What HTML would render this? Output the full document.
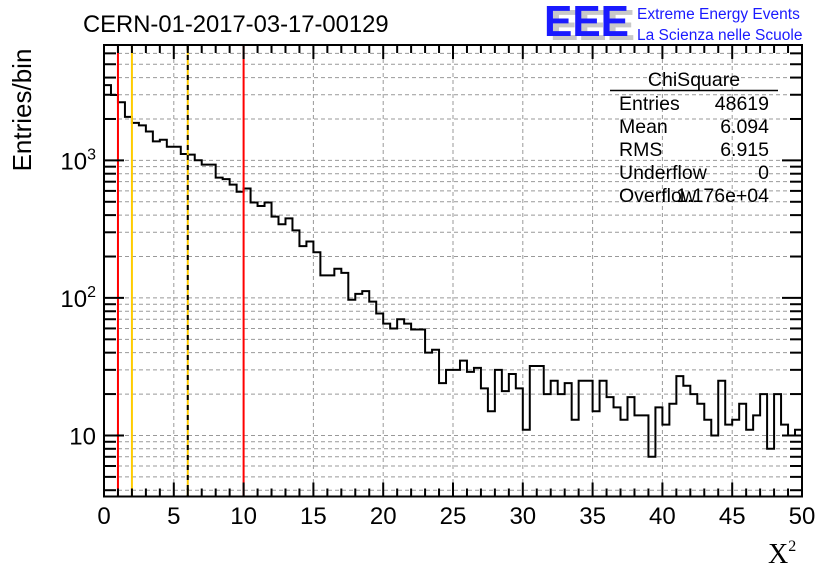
<!DOCTYPE html>
<html><head><meta charset="utf-8"><style>
body{margin:0;background:#fff;width:836px;height:572px;overflow:hidden}
svg{display:block;font-family:"Liberation Sans",sans-serif}
</style></head><body>
<svg id="chart" width="836" height="572">
<text x="83" y="32" font-size="23.8">CERN-01-2017-03-17-00129</text>
<g>
<text x="550" y="40" font-size="44" font-weight="bold" fill="#c8c8c8" textLength="85" lengthAdjust="spacingAndGlyphs">EEE</text>
<text x="544" y="36" font-size="44" font-weight="bold" fill="#1a1aff" textLength="85" lengthAdjust="spacingAndGlyphs">EEE</text>
<text x="637" y="19" font-size="15.5" fill="#1a1aff">Extreme Energy Events</text>
<text x="637" y="40" font-size="15.5" fill="#1a1aff">La Scienza nelle Scuole</text>
</g>
<g id="grid"></g>
<g id="hist"></g>
<g id="marks"></g>
<g id="axes"></g>
<g font-size="19.5">
<text x="694" y="86" text-anchor="middle">ChiSquare</text>
<line x1="610" y1="90.5" x2="778" y2="90.5" stroke="#000" stroke-width="1.5"/>
<text x="619" y="110">Entries</text><text x="769" y="110" text-anchor="end">48619</text>
<text x="619" y="133">Mean</text><text x="769" y="133" text-anchor="end">6.094</text>
<text x="619" y="156">RMS</text><text x="769" y="156" text-anchor="end">6.915</text>
<text x="619" y="179">Underflow</text><text x="769" y="179" text-anchor="end">0</text>
<text x="619" y="202">Overflow</text><text x="769" y="202" text-anchor="end">1.176e+04</text>
</g>
<text x="0" y="0" font-size="26" transform="translate(31 110) rotate(-90)" text-anchor="middle">Entries/bin</text>
<text x="768" y="563" font-size="28" font-family="Liberation Serif,serif">X<tspan font-size="16" dy="-12">2</tspan></text>
</svg>
<script>
const binValues=[3525,2985,2645,2070,1875,1795,1623,1374,1412,1256,1256,1112,1100,1002,931,931,750,730,667,591,624,494,466,494,390,343,379,310,238,257,215,146,146,163,152,97,107,112,94,77,65,60,70,65,59,59,40,42,24,30,30,35,29,31,22,15,30,21,28,22,11,32,32,20,25,20,24,13,25,25,15,25,19,16,13,19,14,14,7,16,12,17,27,23,20,17,13,10,25,12,13,17,11,14,20,8,20,12,10,11];
const xTicks=[0,5,10,15,20,25,30,35,40,45,50];
const yTickLabels=[10,100,1000];
const cutLines=[1,2,6,10];
const NS="http://www.w3.org/2000/svg";
const L=104,R=802,T=45,B=496.5,xmin=0,xmax=50,ymin=3.6,ymax=6900;
function X(v){return L+(v-xmin)/(xmax-xmin)*(R-L);}
function Y(v){return B-(Math.log10(v)-Math.log10(ymin))/(Math.log10(ymax)-Math.log10(ymin))*(B-T);}
function mk(p,t,a){const e=document.createElementNS(NS,t);for(const k in a)e.setAttribute(k,a[k]);p.appendChild(e);return e;}
const grid=document.getElementById('grid'),axes=document.getElementById('axes'),hist=document.getElementById('hist'),marks=document.getElementById('marks');

for(const t of xTicks){if(t>xmin&&t<xmax){const g=mk(grid,'line',{x1:X(t),x2:X(t),y1:T,y2:B,stroke:'#999','stroke-dasharray':'4,3'});

}}
for(let d=1;d<=1000;d*=10){for(let m=1;m<10;m++){const v=d*m;if(v<ymin||v>ymax)continue;const y=Y(v);
const g=mk(grid,'line',{x1:L,x2:R,y1:y,y2:y,stroke:'#999','stroke-dasharray':'4,3'});


const len=m===1?20:12;
mk(axes,'line',{x1:L,x2:L+len,y1:y,y2:y,stroke:'#000','stroke-width':2});
mk(axes,'line',{x1:R,x2:R-len,y1:y,y2:y,stroke:'#000','stroke-width':2});}}
const w=(xmax-xmin)/binValues.length;
let d='M'+X(0)+','+B;
binValues.forEach((v,i)=>{const y=Y(v);d+=' L'+X(i*w)+','+y+' L'+X((i+1)*w)+','+y;});
const p=mk(hist,'path',{d:d,fill:'none',stroke:'#000','stroke-width':2});


const cutColors=['#f00','#fc0','#fc0','#f00'];
cutLines.forEach((c,i)=>{const l=mk(marks,'line',{x1:X(c),x2:X(c),y1:T,y2:B,stroke:cutColors[i],'stroke-width':2});


if(i===2){mk(marks,'line',{x1:X(c),x2:X(c),y1:T,y2:B,stroke:'#000','stroke-width':2,'stroke-dasharray':'5,5'});}});
mk(axes,'rect',{x:L,y:T,width:R-L,height:B-T,fill:'none',stroke:'#000','stroke-width':2});

for(let t=0;t<=50;t+=1){const x=X(t);const len=t%5===0?14:8;
mk(axes,'line',{x1:x,x2:x,y1:B,y2:B-len,stroke:'#000','stroke-width':2});
mk(axes,'line',{x1:x,x2:x,y1:T,y2:T+len,stroke:'#000','stroke-width':2});}
for(const t of xTicks){const tx=mk(axes,'text',{x:X(t),y:524,'font-size':24,'text-anchor':'middle'});tx.textContent=t;

}
for(const t of yTickLabels){const tx=mk(axes,'text',{x:L-8,y:Y(t)+9,'font-size':24,'text-anchor':'end'});


if(t===10){tx.textContent='10';}else{tx.textContent='10';const s=mk(tx,'tspan',{dy:-10,'font-size':16});s.textContent=Math.round(Math.log10(t));}}
</script>
</body></html>
